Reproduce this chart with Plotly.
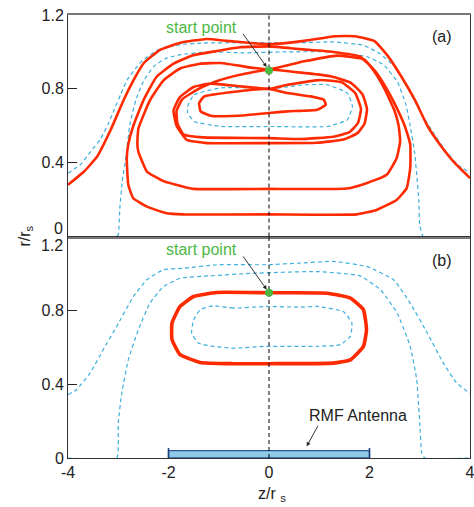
import plotly.graph_objects as go
from plotly.subplots import make_subplots

# ---------------- data ----------------
z_ticks = [-4, -2, 0, 2, 4]
z_ticktext = ["-4", "-2", "0", "2", "4"]
r_ticks = [0, 0.4, 0.8, 1.2]
r_ticktext = ["0", "0.4", "0.8", "1.2"]

center_z = [0, 0]
center_r = [0, 1.2]

start_z = 0.0
start_r_a = 0.90
start_r_b = 0.895

antenna_z = [-2, 2]

# panel (a) dashed contours
a_d1_z = [-4, -3.75, -3.55, -3.35, -3.2, -3.08, -2.95, -2.82, -2.55, -2.22, -1.76, -1.3, -0.6, 0.0, 0.62, 1.28, 1.88, 2.21, 2.5, 2.75, 3.0, 3.25, 3.5, 3.75, 4.0]
a_d1_r = [0.343, 0.39, 0.46, 0.53, 0.61, 0.687, 0.77, 0.85, 0.945, 1.01, 1.04, 1.048, 1.05, 1.05, 1.05, 1.054, 1.036, 0.99, 0.92, 0.81, 0.68, 0.57, 0.47, 0.39, 0.345]

a_d2_z = [-4, -3.05, -3.0, -2.97, -2.92, -2.85, -2.77, -2.65, -2.5, -2.3, -2.05, -1.76, -1.23, -0.5, 0.3, 1.24, 1.94, 2.28, 2.55, 2.72, 2.81, 2.9, 2.94, 2.98, 3.0, 3.07, 4]
a_d2_r = [0, 0, 0.01, 0.15, 0.3, 0.424, 0.605, 0.74, 0.84, 0.92, 0.965, 0.985, 1.0, 0.995, 1.0, 1.0, 0.975, 0.93, 0.84, 0.72, 0.6, 0.45, 0.334, 0.2, 0.06, 0, 0]

a_d3_z = [-1.62, -1.49, -0.96, -0.3, 0.03, 0.7, 1.16, 1.56, 1.66, 1.56, 1.16, 0.03, -0.96, -1.49, -1.62, -1.62]
a_d3_r = [0.705, 0.768, 0.805, 0.805, 0.80, 0.822, 0.822, 0.777, 0.705, 0.632, 0.596, 0.596, 0.596, 0.623, 0.669, 0.705]

# panel (a) red trajectory pieces
a_out_z = [-4, -3.68, -3.42, -3.15, -2.89, -2.69, -2.49, -2.16, -1.76, -1.24, -0.84, -0.31, 0.03, 0.7, 1.31, 1.71, 2.1, 2.37, 2.63, 2.9, 3.16, 3.43, 3.7, 4.0]
a_out_r = [0.28, 0.352, 0.433, 0.578, 0.741, 0.85, 0.94, 1.012, 1.05, 1.07, 1.06, 1.047, 1.042, 1.06, 1.085, 1.085, 1.058, 0.976, 0.868, 0.741, 0.596, 0.488, 0.397, 0.316]

a_l5_z = [0.0, -0.58, -1.04, -1.51, -1.9, -2.24, -2.5, -2.7, -2.8, -2.83, -2.8, -2.7, -2.43, -2.04, -1.7, 0.0, 1.75, 2.14, 2.54, 2.74, 2.81, 2.81, 2.7, 2.5, 2.3, 2.1, 1.81, 1.28, 0.62, 0.0]
a_l5_r = [1.03, 1.025, 1.005, 0.982, 0.936, 0.864, 0.737, 0.6, 0.5, 0.424, 0.28, 0.207, 0.162, 0.126, 0.12, 0.12, 0.12, 0.144, 0.198, 0.262, 0.37, 0.5, 0.6, 0.72, 0.82, 0.9, 0.975, 1.0, 1.015, 1.03]

a_l4_z = [0.0, -0.3, -0.96, -1.37, -1.77, -2.1, -2.37, -2.6, -2.62, -2.6, -2.43, -2.1, -1.7, -1.5, 0.0, 1.55, 1.94, 2.34, 2.54, 2.61, 2.58, 2.5, 2.3, 2.08, 1.89, 1.36, 0.7, 0.0]
a_l4_r = [0.905, 0.913, 0.94, 0.936, 0.91, 0.846, 0.737, 0.584, 0.5, 0.46, 0.352, 0.3, 0.27, 0.258, 0.258, 0.26, 0.289, 0.334, 0.424, 0.515, 0.6, 0.68, 0.8, 0.9, 0.96, 0.98, 0.949, 0.905]

a_sp_z = [0.0, 0.7, 1.23, 1.63, 1.86, 1.95, 1.9, 1.76, 1.48, 0.95, 0.0, -1.24, -1.64, -1.84, -1.9, -1.77, -1.5, -1.17, -0.63, 0.0,
          0.37, 1.03, 1.45, 1.72, 1.83, 1.77, 1.6, 1.28, 0.62, 0.0, -1.31, -1.7, -1.82, -1.84, -1.72, -1.4, -1.0, -0.6, 0.0]
a_sp_r = [0.905, 0.886, 0.868, 0.832, 0.77, 0.69, 0.611, 0.56, 0.525, 0.508, 0.506, 0.506, 0.524, 0.6, 0.683, 0.756, 0.81, 0.828, 0.815, 0.80,
          0.822, 0.848, 0.835, 0.775, 0.69, 0.615, 0.565, 0.54, 0.528, 0.533, 0.537, 0.552, 0.61, 0.68, 0.745, 0.80, 0.845, 0.875, 0.905]

a_l1_z = [0.0, 0.37, 0.83, 1.09, 1.13, 0.96, 0.37, 0.0, -0.63, -1.16, -1.36, -1.39, -1.29, -0.63, 0.0]
a_l1_r = [0.80, 0.777, 0.759, 0.741, 0.714, 0.687, 0.678, 0.669, 0.654, 0.654, 0.678, 0.723, 0.759, 0.786, 0.80]

# panel (b)
b_d1_z = [-4, -3.83, -3.56, -3.3, -3.03, -2.7, -2.43, -2.1, -1.7, -1.04, -0.05, 0.62, 1.28, 1.94, 2.48, 2.81, 3.15, 3.47, 3.73, 4.0]
b_d1_r = [0.343, 0.37, 0.46, 0.587, 0.713, 0.875, 0.966, 1.02, 1.028, 1.047, 1.047, 1.056, 1.065, 1.038, 0.966, 0.839, 0.677, 0.514, 0.408, 0.35]

b_d2_z = [-4, -3.03, -3.0, -2.93, -2.8, -2.6, -2.37, -2.1, -1.77, -1.17, -0.38, 0.95, 1.81, 2.22, 2.55, 2.81, 2.94, 3.0, 3.04, 3.1, 4.0]
b_d2_r = [0, 0, 0.19, 0.352, 0.532, 0.695, 0.839, 0.929, 0.974, 0.987, 1.0, 1.01, 0.987, 0.911, 0.785, 0.605, 0.424, 0.19, 0.027, 0, 0]

b_d3_z = [-0.05, -0.71, -1.11, -1.37, -1.5, -1.54, -1.4, -1.11, -0.71, -0.05, 0.95, 1.42, 1.62, 1.65, 1.48, 0.95, 0.62, -0.05]
b_d3_r = [0.821, 0.812, 0.825, 0.803, 0.749, 0.677, 0.622, 0.605, 0.595, 0.605, 0.605, 0.614, 0.659, 0.731, 0.794, 0.821, 0.817, 0.821]

b_loop_z = [0.0, -1.04, -1.5, -1.77, -1.93, -1.93, -1.77, -1.37, -0.71, 0.0, 1.28, 1.62, 1.88, 1.94, 1.88, 1.62, 1.15, 0.0]
b_loop_r = [0.895, 0.897, 0.875, 0.821, 0.731, 0.641, 0.56, 0.518, 0.511, 0.511, 0.514, 0.532, 0.605, 0.695, 0.803, 0.866, 0.893, 0.895]

# ---------------- style ----------------
RED = "#ff2a00"
BLUE = "#3db0dc"
GREEN = "#4cb844"
FONT = "Liberation Sans, Arial, sans-serif"
DASH = "4px,3px"

fig = make_subplots(rows=2, cols=1, shared_xaxes=True, vertical_spacing=0)


def dashed(z, r, row):
    fig.add_trace(go.Scatter(x=z, y=r, mode="lines",
                             line=dict(color=BLUE, width=1.2, dash=DASH, shape="spline", smoothing=0.4),
                             hoverinfo="skip"), row=row, col=1)


def red(z, r, row, w):
    fig.add_trace(go.Scatter(x=z, y=r, mode="lines",
                             line=dict(color=RED, width=w, shape="spline", smoothing=0.4),
                             hoverinfo="skip"), row=row, col=1)


# panel (a)
for z, r in [(a_d1_z, a_d1_r), (a_d2_z, a_d2_r), (a_d3_z, a_d3_r)]:
    dashed(z, r, 1)
for z, r in [(a_out_z, a_out_r), (a_l5_z, a_l5_r), (a_l4_z, a_l4_r), (a_sp_z, a_sp_r), (a_l1_z, a_l1_r)]:
    red(z, r, 1, 2.6)

# panel (b)
for z, r in [(b_d1_z, b_d1_r), (b_d2_z, b_d2_r), (b_d3_z, b_d3_r)]:
    dashed(z, r, 2)
red(b_loop_z, b_loop_r, 2, 3.6)

# antenna
ah = 0.04
fig.add_trace(go.Scatter(x=[antenna_z[0], antenna_z[1], antenna_z[1], antenna_z[0], antenna_z[0]],
                         y=[0, 0, ah, ah, 0], mode="lines", fill="toself",
                         fillcolor="#8fcbe8", line=dict(color="#2b5797", width=1.3),
                         hoverinfo="skip"), row=2, col=1)
for az in antenna_z:
    fig.add_trace(go.Scatter(x=[az, az], y=[0, ah * 1.35], mode="lines",
                             line=dict(color="#1b3f7a", width=1.5), hoverinfo="skip"), row=2, col=1)

# centre line and start points
for row, sr in [(1, start_r_a), (2, start_r_b)]:
    fig.add_trace(go.Scatter(x=center_z, y=center_r, mode="lines",
                             line=dict(color="black", width=1, dash=DASH), hoverinfo="skip"), row=row, col=1)
    fig.add_trace(go.Scatter(x=[start_z], y=[sr], mode="markers",
                             marker=dict(color=GREEN, size=8), hoverinfo="skip"), row=row, col=1)

fig.update_layout(
    width=474, height=507, showlegend=False,
    margin=dict(l=68, r=4, t=15, b=49),
    paper_bgcolor="white", plot_bgcolor="white",
    font=dict(family=FONT, size=16, color="#222"),
)

fig.update_xaxes(range=[-4, 4], showgrid=False, zeroline=False, showline=True, mirror=True,
                 linecolor="#333", linewidth=1, ticks="", automargin=False)
fig.update_xaxes(showticklabels=False, linecolor="#777", linewidth=1.5, row=1, col=1)
fig.update_xaxes(tickvals=z_ticks, ticktext=z_ticktext, tickfont=dict(size=16),
                 ticklabeloverflow="allow", row=2, col=1)

fig.update_yaxes(range=[0, 1.2], showgrid=False, zeroline=False, showline=True, mirror=True,
                 linecolor="#333", linewidth=1, ticks="inside", ticklen=9, tickcolor="#222",
                 tickfont=dict(size=16), automargin=False)
fig.update_yaxes(tickvals=r_ticks, ticktext=["", r_ticktext[1], r_ticktext[2], r_ticktext[3]], row=1, col=1)
fig.update_yaxes(tickvals=r_ticks, ticktext=[r_ticktext[0], r_ticktext[1], r_ticktext[2], ""], row=2, col=1)

ann = []
# split tick labels at the panel boundary
ann.append(dict(text=r_ticktext[0], xref="paper", x=0, xanchor="right", xshift=-3,
                yref="y", y=0, yanchor="bottom", yshift=-2, showarrow=False, font=dict(size=16)))
ann.append(dict(text=r_ticktext[3], xref="paper", x=0, xanchor="right", xshift=-3,
                yref="y2", y=1.2, yanchor="top", yshift=2, showarrow=False, font=dict(size=16)))
# start point labels
for yr, sr in [("y", start_r_a), ("y2", start_r_b)]:
    xr = "x" if yr == "y" else "x2"
    ann.append(dict(text="start point", xref=xr, yref=yr, x=-1.34, y=1.13, showarrow=False,
                    font=dict(size=16, color=GREEN)))
    ann.append(dict(text="", xref=xr, yref=yr, x=start_z, y=sr, ax=-27, ay=-38,
                    showarrow=True, arrowhead=2, arrowsize=0.9, arrowwidth=0.9, arrowcolor="#222",
                    standoff=4))
ann.append(dict(text="(a)", xref="x", yref="y", x=3.45, y=1.083, showarrow=False, font=dict(size=16)))
ann.append(dict(text="(b)", xref="x2", yref="y2", x=3.44, y=1.07, showarrow=False, font=dict(size=16)))
ann.append(dict(text="RMF Antenna", xref="x2", yref="y2", x=1.78, y=0.228, showarrow=False, font=dict(size=16)))
ann.append(dict(text="", xref="x2", yref="y2", x=0.75, y=0.063, ax=12, ay=-22,
                showarrow=True, arrowhead=2, arrowsize=0.9, arrowwidth=0.9, arrowcolor="#222"))
# axis titles
ann.append(dict(text="r/r<sub>s</sub>", xref="paper", yref="paper", x=0, y=0.5, xanchor="center",
                xshift=-43, textangle=-90, showarrow=False, font=dict(size=16)))
ann.append(dict(text="z/r <sub>s</sub>", xref="paper", yref="paper", x=0.5, y=0, xshift=3, yshift=-25,
                yanchor="top", showarrow=False, font=dict(size=16)))
fig.update_layout(annotations=ann)

fig.write_html("out.html")
